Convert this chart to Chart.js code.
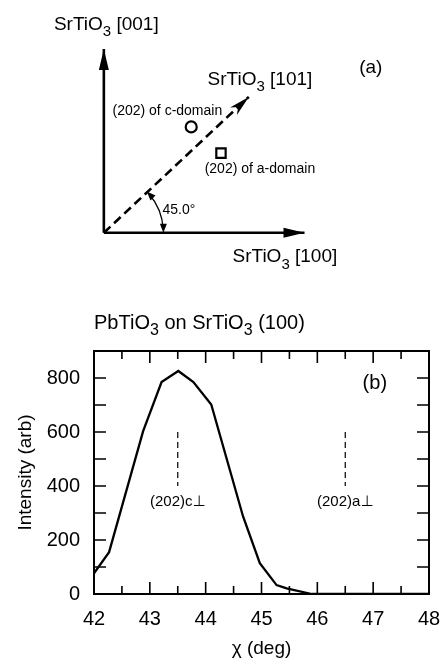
<!DOCTYPE html>
<html>
<head>
<meta charset="utf-8">
<script src="https://cdn.jsdelivr.net/npm/chart.js@4.4.1/dist/chart.umd.min.js"></script>
<style>
  html, body { margin: 0; padding: 0; background: #fff; }
  #wrap { position: relative; width: 441px; height: 662px; }
  canvas { position: absolute; left: 0; }
  #diagram { top: 0; }
  #scan { top: 280px; }
</style>
</head>
<body>
<div id="wrap">
  <canvas id="diagram" width="441" height="280"></canvas>
  <canvas id="scan" width="441" height="382"></canvas>
</div>
<script>
// ---- (a) geometry of the substrate directions (origin = corner, units ~ px)
const arrowNames = ['SrTiO_3 [001]', 'SrTiO_3 [100]', 'SrTiO_3 [101]'];
const arrowEndX = [0, 209, 151];
const arrowEndY = [196, 0, 145];
const spotNames = ['(202) of c-domain', '(202) of a-domain'];
const spotX = [91, 122];
const spotY = [113, 85];
const tiltLabel = '45.0°';

// ---- (b) chi scan of PbTiO3 on SrTiO3 (100)
const chi = [42.0, 42.27, 42.88, 43.21, 43.51, 43.78, 44.10, 44.67, 44.97, 45.27, 45.45, 45.90, 46.5, 47.0, 47.5, 48.0];
const intensity = [77, 155, 603, 785, 826, 785, 702, 287, 114, 33, 21, 0, 0, 0, 0, 0];
const xTicks = [42, 43, 44, 45, 46, 47, 48];
const xMinorTicks = [42.5, 43.5, 44.5, 45.5, 46.5, 47.5];
const yTicks = [0, 200, 400, 600, 800];
const yMinorTicks = [100, 300, 500, 700];
const peakNames = ['(202)c⊥', '(202)a⊥'];
const peakChi = [43.5, 46.5];
const peakMarkTop = 600;
const peakMarkBottom = 400;

const FONT = '"Liberation Sans", Arial, "DejaVu Sans", sans-serif';
Chart.defaults.font.family = FONT;
Chart.defaults.color = '#000';

// text with _3 style subscripts
function drawLabel(ctx, text, x, y, size, align) {
  const parts = text.split(/_(\d)/);
  const subSize = Math.round(size * 0.78);
  let w = 0;
  parts.forEach((p, i) => {
    ctx.font = (i % 2 ? subSize : size) + 'px ' + FONT;
    w += ctx.measureText(p).width;
  });
  let cx = align === 'center' ? x - w / 2 : (align === 'right' ? x - w : x);
  ctx.textAlign = 'left';
  ctx.textBaseline = 'middle';
  ctx.fillStyle = '#000';
  parts.forEach((p, i) => {
    const sub = i % 2 === 1;
    ctx.font = (sub ? subSize : size) + 'px ' + FONT;
    ctx.fillText(p, cx, sub ? y + size * 0.38 : y);
    cx += ctx.measureText(p).width;
  });
}

function arrowHead(ctx, tx, ty, dx, dy, len, half, notch) {
  const L = Math.hypot(dx, dy);
  const ux = dx / L, uy = dy / L;
  const bx = tx - ux * len, by = ty - uy * len;
  const px = -uy, py = ux;
  ctx.beginPath();
  ctx.moveTo(tx, ty);
  ctx.lineTo(bx + px * half, by + py * half);
  ctx.lineTo(tx - ux * len * notch, ty - uy * len * notch);
  ctx.lineTo(bx - px * half, by - py * half);
  ctx.closePath();
  ctx.fill();
}

const diagramDecor = {
  id: 'diagramDecor',
  afterDatasetsDraw(chart) {
    const { ctx, scales: { x, y } } = chart;
    const ox = x.getPixelForValue(0), oy = y.getPixelForValue(0);
    ctx.save();
    ctx.fillStyle = '#000';
    ctx.strokeStyle = '#000';
    // arrow heads
    arrowEndX.forEach((ex, i) => {
      const tx = x.getPixelForValue(ex), ty = y.getPixelForValue(arrowEndY[i]);
      arrowHead(ctx, tx, ty, tx - ox, ty - oy, 21, 5, i === 2 ? 0.7 : 1);
    });
    // 45 degree arc
    const theta = Math.atan2(arrowEndY[2], arrowEndX[2]);
    const r = x.getPixelForValue(62) - ox;
    ctx.lineWidth = 1.3;
    ctx.beginPath();
    ctx.arc(ox, oy, r, -theta + 0.04, -0.05);
    ctx.stroke();
    arrowHead(ctx, ox + r * Math.cos(theta), oy - r * Math.sin(theta),
      -Math.sin(theta), -Math.cos(theta), 9, 3.5, 1);
    arrowHead(ctx, ox + r, oy, 0, 1, 9, 3.5, 1);

    // labels
    const lab = (t, vx, vy, size, align) =>
      drawLabel(ctx, t, x.getPixelForValue(vx), y.getPixelForValue(vy), size, align);
    lab(arrowNames[0], -52, 222, 19, 'left');
    lab(arrowNames[1], 134, -26, 19, 'left');
    lab(arrowNames[2], 108, 163, 19, 'left');
    lab(spotNames[0], 9, 130, 14, 'left');
    lab(spotNames[1], 105, 68, 14, 'left');
    lab(tiltLabel, 61, 24, 14, 'left');
    lab('(a)', 278, 176, 19, 'center');
    ctx.restore();
  }
};

new Chart(document.getElementById('diagram'), {
  type: 'scatter',
  data: {
    datasets: [
      { data: [{ x: 0, y: 0 }, { x: arrowEndX[0], y: arrowEndY[0] }], showLine: true,
        borderColor: '#000', borderWidth: 2.6, pointRadius: 0 },
      { data: [{ x: 0, y: 0 }, { x: arrowEndX[1], y: arrowEndY[1] }], showLine: true,
        borderColor: '#000', borderWidth: 2.6, pointRadius: 0 },
      { data: [{ x: 0, y: 0 }, { x: arrowEndX[2], y: arrowEndY[2] }], showLine: true,
        borderColor: '#000', borderWidth: 2.6, borderDash: [9, 5], pointRadius: 0 },
      { data: [{ x: spotX[0], y: spotY[0] }], pointStyle: 'circle', pointRadius: 5.5,
        borderWidth: 2.2, borderColor: '#000', backgroundColor: '#fff' },
      { data: [{ x: spotX[1], y: spotY[1] }], pointStyle: 'rect', pointRadius: 6.6,
        borderWidth: 2.2, borderColor: '#000', backgroundColor: '#fff' }
    ]
  },
  options: {
    responsive: false,
    animation: false,
    layout: { padding: 0 },
    plugins: { legend: { display: false }, tooltip: { enabled: false } },
    scales: {
      x: { type: 'linear', display: false, min: -99, max: 342 },
      y: { type: 'linear', display: false, min: -41, max: 239 }
    }
  },
  plugins: [diagramDecor]
});

const scanDecor = {
  id: 'scanDecor',
  afterDatasetsDraw(chart) {
    const { ctx, chartArea: a, scales: { x, y } } = chart;
    ctx.save();
    ctx.strokeStyle = '#000';
    ctx.lineWidth = 1.6;
    ctx.beginPath();
    const xt = (v, len) => {
      const px = x.getPixelForValue(v);
      ctx.moveTo(px, a.bottom); ctx.lineTo(px, a.bottom - len);
      ctx.moveTo(px, a.top); ctx.lineTo(px, a.top + len);
    };
    xTicks.slice(1, -1).forEach(v => xt(v, 12));
    xMinorTicks.forEach(v => xt(v, 8));
    yTicks.slice(1).concat(yMinorTicks).forEach(v => {
      const py = y.getPixelForValue(v);
      ctx.moveTo(a.left, py); ctx.lineTo(a.left + 12, py);
      ctx.moveTo(a.right, py); ctx.lineTo(a.right - 12, py);
    });
    ctx.stroke();
    ctx.lineWidth = 2;
    ctx.strokeRect(a.left, a.top, a.width, a.height);

    peakNames.forEach((t, i) => {
      drawLabel(ctx, t, x.getPixelForValue(peakChi[i]), y.getPixelForValue(341), 15, 'center');
    });
    drawLabel(ctx, '(b)', x.getPixelForValue(47.03), y.getPixelForValue(780), 20, 'center');
    drawLabel(ctx, 'PbTiO_3 on SrTiO_3 (100)', a.left, a.top - 28, 20, 'left');
    ctx.restore();
  }
};

new Chart(document.getElementById('scan'), {
  type: 'scatter',
  data: {
    datasets: [
      { data: chi.map((c, i) => ({ x: c, y: intensity[i] })), showLine: true,
        borderColor: '#000', borderWidth: 2.3, pointRadius: 0, tension: 0 },
      { data: [{ x: peakChi[0], y: peakMarkTop }, { x: peakChi[0], y: peakMarkBottom }], showLine: true,
        borderColor: '#000', borderWidth: 1.2, borderDash: [6, 4], pointRadius: 0 },
      { data: [{ x: peakChi[1], y: peakMarkTop }, { x: peakChi[1], y: peakMarkBottom }], showLine: true,
        borderColor: '#000', borderWidth: 1.2, borderDash: [6, 4], pointRadius: 0 }
    ]
  },
  options: {
    responsive: false,
    animation: false,
    layout: { padding: { top: 71, right: 12, left: 0, bottom: 0 } },
    plugins: { legend: { display: false }, tooltip: { enabled: false } },
    scales: {
      x: {
        type: 'linear', min: 42, max: 48,
        grid: { display: false, drawTicks: false }, border: { display: false },
        afterBuildTicks: s => { s.ticks = xTicks.map(v => ({ value: v })); },
        afterFit: s => { s.height = 68; s.paddingLeft = 0; s.paddingRight = 0; },
        ticks: { padding: 13, font: { size: 20 }, color: '#000', maxRotation: 0 },
        title: { display: true, text: 'χ (deg)', font: { size: 19 }, color: '#000',
                 padding: { top: 0, bottom: 2 } }
      },
      y: {
        type: 'linear', min: 0, max: 900,
        grid: { display: false, drawTicks: false }, border: { display: false },
        afterBuildTicks: s => { s.ticks = yTicks.map(v => ({ value: v })); },
        afterFit: s => { s.width = 94; s.paddingTop = 0; s.paddingBottom = 0; },
        ticks: { padding: 14, font: { size: 20 }, color: '#000' },
        title: { display: true, text: 'Intensity (arb)', font: { size: 19 }, color: '#000',
                 padding: { top: 14, bottom: 0 } }
      }
    }
  },
  plugins: [scanDecor]
});
</script>
</body>
</html>
